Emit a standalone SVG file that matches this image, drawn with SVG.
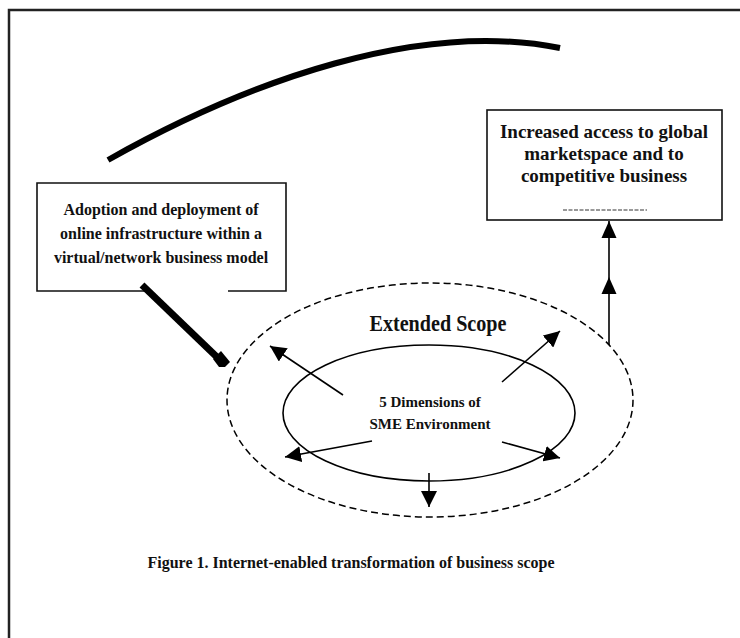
<svg xmlns="http://www.w3.org/2000/svg" width="740" height="638" viewBox="0 0 740 638">
<style>
.t{font-family:"Liberation Serif","Times New Roman",serif;font-weight:bold;fill:#111;text-anchor:middle}
.box{fill:#fff;stroke:#111;stroke-width:1.6}
.ln{stroke:#000;stroke-width:1.6;fill:none}
</style>
<defs>
<marker id="ahb" viewBox="0 0 10 10" refX="10" refY="5" markerWidth="10" markerHeight="10" orient="auto">
<path d="M0,0 L10,5 L0,10 z" fill="#000"/>
</marker>
</defs>
<rect width="740" height="638" fill="#fff"/>
<path d="M9,638 V10 H740" fill="none" stroke="#222" stroke-width="2.5"/>
<path d="M108,160 C250,80 420,20 560,48" fill="none" stroke="#000" stroke-width="6"/>
<g id="n-adoption">
<path d="M147,291 H37 V183 H286 V291 H228" class="box"/>
<text class="t" font-size="16"><tspan x="161" y="215">Adoption and deployment of</tspan><tspan x="161" y="239">online infrastructure within a</tspan><tspan x="161" y="263">virtual/network business model</tspan></text>
</g>
<g id="n-access">
<rect x="487" y="110" width="235" height="110" class="box"/>
<text class="t" font-size="19"><tspan x="604" y="138">Increased access to global</tspan><tspan x="604" y="160">marketspace and to</tspan><tspan x="604" y="182">competitive business</tspan></text>
<line x1="563" y1="210" x2="647" y2="210" stroke="#333" stroke-width="1" stroke-dasharray="4,1.5"/>
</g>
<g id="n-scope">
<ellipse cx="430" cy="400" rx="203" ry="117" fill="none" stroke="#000" stroke-width="1.5" stroke-dasharray="7,4"/>
<text class="t" x="438" y="331" font-size="24" textLength="137" lengthAdjust="spacingAndGlyphs">Extended Scope</text>
</g>
<g id="n-dimensions">
<ellipse cx="429" cy="413" rx="146" ry="68" fill="none" stroke="#000" stroke-width="1.6"/>
<text class="t" font-size="15"><tspan x="430" y="407">5 Dimensions of</tspan><tspan x="430" y="429">SME Environment</tspan></text>
</g>
<g id="connectors">
<line x1="142" y1="285" x2="220" y2="360" stroke="#000" stroke-width="7"/>
<path d="M213,359 L221,351 L230,362 L225,367 L219,367 Z" fill="#000"/>
<line x1="343" y1="395" x2="270" y2="346" class="ln" marker-end="url(#ahb)"/>
<line x1="502" y1="382" x2="560" y2="331" class="ln" marker-end="url(#ahb)"/>
<line x1="372" y1="441" x2="285" y2="457" class="ln" marker-end="url(#ahb)"/>
<line x1="502" y1="442" x2="560" y2="458" class="ln" marker-end="url(#ahb)"/>
<line x1="429" y1="473" x2="429" y2="507" class="ln" marker-end="url(#ahb)"/>
<line x1="609" y1="345" x2="609" y2="221" class="ln"/>
<path d="M609,277 L616.5,294 L601.5,294 z" fill="#000"/>
<path d="M609,221 L616.5,238 L601.5,238 z" fill="#000"/>
</g>
<text class="t" x="351" y="568" font-size="16.5" textLength="407" lengthAdjust="spacingAndGlyphs">Figure 1. Internet-enabled transformation of  business scope</text>
</svg>
